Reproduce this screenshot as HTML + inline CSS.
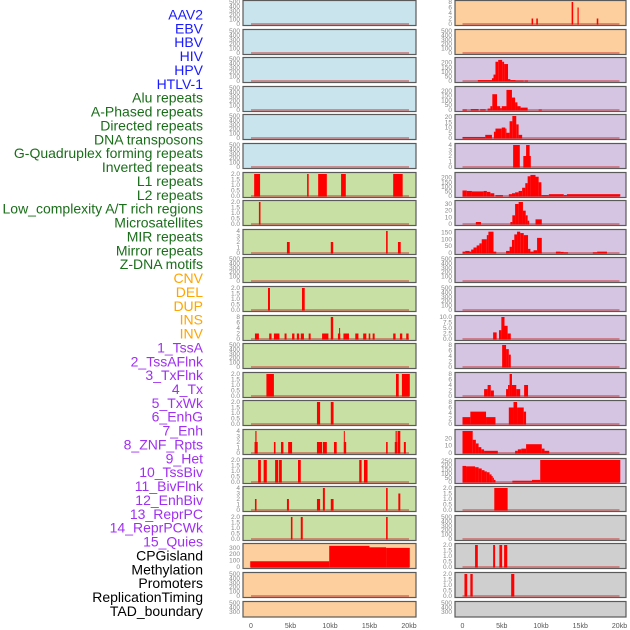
<!DOCTYPE html>
<html><head><meta charset="utf-8"><style>
body{margin:0;background:#fff;}
svg{display:block;font-family:"Liberation Sans",sans-serif;}
</style></head><body>
<svg id="chart" width="630" height="630" viewBox="0 0 630 630"></svg>
<script>
const labels=["AAV2","EBV","HBV","HIV","HPV","HTLV-1","Alu repeats","A-Phased repeats","Directed repeats","DNA transposons","G-Quadruplex forming repeats","Inverted repeats","L1 repeats","L2 repeats","Low_complexity A/T rich regions","Microsatellites","MIR repeats","Mirror repeats","Z-DNA motifs","CNV","DEL","DUP","INS","INV","1_TssA","2_TssAFlnk","3_TxFlnk","4_Tx","5_TxWk","6_EnhG","7_Enh","8_ZNF_Rpts","9_Het","10_TssBiv","11_BivFlnk","12_EnhBiv","13_ReprPC","14_ReprPCWk","15_Quies","CPGisland","Methylation","Promoters","ReplicationTiming","TAD_boundary"];
const labelGroups=[0,0,0,0,0,0,1,1,1,1,1,1,1,1,1,1,1,1,1,2,2,2,2,2,3,3,3,3,3,3,3,3,3,3,3,3,3,3,3,4,4,4,4,4];
const xTicks=[0,5,10,15,20];
const xTickLabels=["0","5kb","10kb","15kb","20kb"];
const E500=[0,100,200,300,400,500];
const leftYmax=[500,500,500,500,500,500,2,2,4,500,2,8,500,2,2,4,2,4,2,345,500,500];
const leftTicks=[E500,E500,E500,E500,E500,E500,[0,0.5,1,1.5,2],[0,0.5,1,1.5,2],[0,1,2,3,4],E500,[0,0.5,1,1.5,2],[0,2,4,6,8],E500,[0,0.5,1,1.5,2],[0,0.5,1,1.5,2],[0,1,2,3,4],[0,0.5,1,1.5,2],[0,1,2,3,4],[0,0.5,1,1.5,2],[0,100,200,300],E500,E500];
const leftSegs=[[],[],[],[],[],[],
[[0.4,1.15,2],[7.1,7.3,2],[8.5,9.6,2],[11.4,12.0,2],[18.0,19.2,2]],
[[1.0,1.2,2]],
[[4.55,4.9,2],[10.1,10.4,2],[17.1,17.3,4],[18.6,18.95,2]],
[],
[[2.15,2.4,2],[6.45,6.8,2]],
[[0.5,1.0,2],[2.3,2.6,2],[2.9,3.6,2],[4.25,4.5,2],[5.2,5.5,2],[5.8,6.1,2],[6.3,6.7,2],[7.3,7.55,2],[9.0,9.8,2],[10.1,10.4,8],[11.0,11.3,2],[11.15,11.25,4],[11.7,12.4,2],[13.2,13.6,2],[14.2,14.6,2],[14.9,15.1,2],[15.4,15.65,2],[18.0,18.3,2],[18.85,19.15,2],[19.65,19.95,2]],
[],
[[1.95,2.9,2],[18.35,18.7,2],[19.1,20.1,2]],
[[8.35,8.75,2],[10.1,10.45,2]],
[[0.45,0.85,2],[0.55,0.7,4],[2.9,3.1,2],[3.8,4.1,2],[4.7,5.2,2],[8.35,9.0,2],[9.1,9.6,2],[10.5,10.85,2],[11.75,12.05,2],[11.75,11.85,4],[17.1,17.3,2],[18.2,18.5,2],[18.3,18.45,4],[18.55,18.9,4],[19.35,19.6,2]],
[[0.9,1.25,2],[1.6,2.0,2],[3.05,3.45,2],[3.55,3.9,2],[5.95,6.3,2],[13.7,14.0,2],[14.3,14.75,2]],
[[0.5,0.7,2],[4.55,4.8,2],[8.35,8.75,2],[10.1,10.45,2],[9.1,9.35,4],[17.1,17.3,4],[18.65,18.9,3]],
[[5.05,5.25,2],[6.3,6.55,2],[17.1,17.3,2]],
[[-0.1,9.9,90],[9.9,15.0,332],[15.0,17.1,309],[17.1,20.1,300]],
[],[]];
const rightYmax=[8,500,240,230,21,4,240,33,160,500,500,10,8,8,8,30,260,2,500,2,2,500];
const rightTicks=[[0,2,4,6,8],E500,[0,50,100,150,200],[0,50,100,150,200],[0,5,10,15,20],[0,1,2,3,4],[0,50,100,150,200],[0,10,20,30],[0,50,100,150],E500,E500,[0,2.5,5,7.5,10],[0,2,4,6,8],[0,2,4,6,8],[0,2,4,6,8],[0,10,20],[0,50,100,150,200,250],[0,0.5,1,1.5,2],E500,[0,0.5,1,1.5,2],[0,0.5,1,1.5,2],E500];
const rightSegs=[
[[8.8,9.0,2],[9.4,9.6,2],[13.9,14.1,8],[14.65,14.8,6],[17.1,17.3,2]],
[],
[[1.95,3.75,10],[3.75,3.95,30],[3.95,4.2,70],[4.2,4.55,210],[4.55,5.05,230],[5.05,5.3,210],[5.3,5.8,185],[5.8,6.1,20],[6.1,6.75,10],[6.75,7.8,5],[7.9,8.35,5]],
[[0,0.55,5],[1.05,2.05,10],[2.25,2.95,8],[3.2,3.55,15],[3.55,3.8,40],[3.8,4.4,165],[4.4,4.8,40],[4.8,5.0,20],[5.0,5.6,40],[5.6,6.3,210],[6.3,6.7,130],[6.7,7.0,80],[7.0,7.4,40],[7.4,8.3,25],[9.7,10.1,5]],
[[0,2.9,1],[2.9,3.75,3],[4.0,4.2,6],[4.2,5.0,9],[5.0,5.45,10],[5.45,5.6,9],[5.6,6.0,5],[6.0,6.35,16],[6.35,6.85,21],[6.85,7.15,13],[7.15,7.6,3]],
[[6.45,7.3,4],[7.75,8.7,2],[8.1,8.55,4]],
[[0,0.55,60],[0.55,1.2,55],[1.2,2.7,50],[2.7,3.1,55],[3.1,3.55,45],[3.55,4.05,30],[4.2,5.15,10],[5.9,6.3,20],[6.3,6.7,30],[6.7,7.15,40],[7.15,7.6,55],[7.6,8.0,90],[8.0,8.3,140],[8.3,8.65,215],[8.65,9.3,230],[9.3,9.7,210],[9.7,10.05,150],[10.05,11.0,10],[11.0,12.9,20],[12.9,13.3,10],[13.3,20.1,20]],
[[1.7,2.35,3],[6.1,6.35,3],[6.35,6.7,13],[6.7,7.15,30],[7.15,7.7,33],[7.7,8.05,20],[8.05,8.3,13],[8.3,8.5,5],[9.3,10.1,7]],
[[0,0.35,10],[0.35,0.9,15],[0.9,1.1,10],[1.1,1.4,25],[1.4,1.8,40],[1.8,2.15,55],[2.15,2.45,70],[2.45,3.1,100],[3.1,3.3,130],[3.3,3.95,155],[3.95,4.3,10],[5.55,6.0,15],[6.0,6.3,45],[6.3,6.6,95],[6.6,6.95,135],[6.95,7.35,155],[7.35,7.8,145],[7.8,8.35,130],[8.35,8.65,30],[8.65,9.05,10],[9.05,9.5,20],[9.5,10.1,110],[11.9,12.5,10],[12.5,12.9,8],[12.9,13.45,5],[16.6,17.15,5],[17.15,18.4,10]],
[],[],
[[3.9,4.35,3],[4.65,4.95,4],[4.95,5.35,10],[5.35,5.75,6],[5.75,6.15,2.5]],
[[5.05,5.55,8],[5.55,5.9,6.5],[5.9,6.15,4.5]],
[[2.75,3.2,2.5],[3.2,3.6,4],[3.6,4.0,2],[5.55,5.8,2.5],[5.8,6.0,4],[6.0,6.3,8],[6.3,6.85,4],[6.85,7.35,2.5],[7.85,8.35,4]],
[[0,1.0,2.5],[1.0,3.0,4.5],[3.0,4.2,2.5],[5.9,6.5,6],[6.5,6.95,8],[6.95,7.8,6],[7.8,8.1,4.5]],
[[0,1.3,30],[1.3,1.7,18],[1.7,2.05,13],[2.05,2.4,8],[2.4,2.75,5],[2.75,4.5,3],[6.7,7.05,3],[7.05,7.5,5],[7.5,8.1,6],[8.1,10.1,12],[10.1,10.45,6],[10.45,11.05,3]],
[[0,0.45,190],[0.45,1.6,185],[1.6,2.05,175],[2.05,2.45,160],[2.45,2.8,140],[2.8,3.1,125],[3.1,3.45,115],[3.45,3.7,90],[3.7,3.85,70],[3.85,4.0,50],[4.0,4.2,25],[6.35,8.85,15],[8.85,9.9,25],[9.9,20.1,260]],
[[4.05,5.75,2]],
[],
[[1.6,1.95,2],[3.9,4.15,2],[4.7,5.05,2],[5.3,5.7,2]],
[[0.25,0.6,2],[1.0,1.3,2],[6.2,6.6,2]],
[]];
const leftColors=["#c9e4ec","#c9e4ec","#c9e4ec","#c9e4ec","#c9e4ec","#c9e4ec","#c8e0a4","#c8e0a4","#c8e0a4","#c8e0a4","#c8e0a4","#c8e0a4","#c8e0a4","#c8e0a4","#c8e0a4","#c8e0a4","#c8e0a4","#c8e0a4","#c8e0a4","#fdcf9e","#fdcf9e","#fdcf9e"];
const rightColors=["#fdcf9e","#fdcf9e","#d5c5e2","#d5c5e2","#d5c5e2","#d5c5e2","#d5c5e2","#d5c5e2","#d5c5e2","#d5c5e2","#d5c5e2","#d5c5e2","#d5c5e2","#d5c5e2","#d5c5e2","#d5c5e2","#d5c5e2","#cfcfcf","#cfcfcf","#cfcfcf","#cfcfcf","#cfcfcf"];
const groupColors=["#1a1aff","#1a6e1a","#ffa500","#a030f0","#000000"];

const NS="http://www.w3.org/2000/svg";
const svg=document.getElementById('chart');
function mk(tag,attrs,parent){const e=document.createElementNS(NS,tag);for(const k in attrs)e.setAttribute(k,attrs[k]);(parent||svg).appendChild(e);return e;}

// labels
labels.forEach((t,i)=>{
  const e=mk('text',{x:203,y:19.5+i*13.87,'text-anchor':'end','font-size':14,fill:groupColors[labelGroups[i]]});
  e.textContent=t;
  
  
});

const cols=[
 {x0:243,x1:416,z:251,t:409,ymax:leftYmax,ticks:leftTicks,segs:leftSegs,colors:leftColors,off:0,tx:240},
 {x0:455,x1:626,z:462.5,t:619.5,ymax:rightYmax,ticks:rightTicks,segs:rightSegs,colors:rightColors,off:22,tx:452}
];
cols.forEach((c,ci)=>{
  const xs=kb=>c.z+kb/20*(c.t-c.z);
  for(let i=0;i<22;i++){
    const top=Math.round(i*28.6)+0.5;
    const h=Math.min(25,617-top);
    const bottom=top+25-1.5;
    const ys=v=>bottom-v/c.ymax[i]*(25-3);
    const g=mk('g',{});
    
    
    const cp='cp'+ci+'_'+i;
    const cl=mk('clipPath',{id:cp},g);
    mk('rect',{x:c.x0,y:top,width:c.x1-c.x0,height:h},cl);
    mk('rect',{x:c.x0,y:top,width:c.x1-c.x0,height:h,fill:c.colors[i]},g);
    const inner=mk('g',{'clip-path':'url(#'+cp+')'},g);
    mk('line',{x1:xs(0),x2:xs(20),y1:bottom,y2:bottom,stroke:'rgba(200,40,40,0.45)','stroke-width':2},inner);
    c.segs[i].forEach(s=>{
      const r=mk('rect',{x:xs(s[0]),y:ys(s[2]),width:Math.max(1,xs(s[1])-xs(s[0])),height:bottom-ys(s[2])+0.5,fill:'#ff0000'},inner);
      
      
    });
    mk('rect',{x:c.x0,y:top,width:c.x1-c.x0,height:h,fill:'none',stroke:'#5a5a5a','stroke-width':1.2},g);
    c.ticks[i].forEach(v=>{
      const y=ys(v)+2;
      if(y>617) return;
      const e=mk('text',{x:c.tx,y:y,'text-anchor':'end','font-size':6.5,fill:'#888'},g);
      e.textContent=(c.ticks[i].some(q=>q%1!==0)? (v%1===0? v.toFixed(1): String(v)) : String(v));
      
      
    });
  }
  xTicks.forEach((v,k)=>{
    const e=mk('text',{x:xs(v),y:628,'text-anchor':'middle','font-size':7,fill:'#555'});
    e.textContent=xTickLabels[k];
    
    
  });
});
</script>
</body></html>
